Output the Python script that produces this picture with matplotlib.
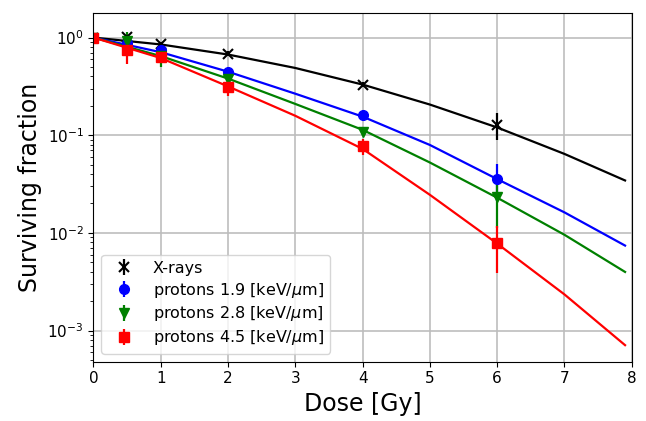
import matplotlib
matplotlib.use("Agg")
import matplotlib.pyplot as plt

# --------- DADOS -----------------------------
# pontos medidos
dose_pts = [0, 0.5, 1, 2, 4, 6]

sf_xray = [1.0, 1.02, 0.86, 0.68, 0.33, 0.128]
err_xray = [0.03, 0.07, 0.05, 0.04, 0.02, 0.039]

sf_p19 = [1.0, 0.88, 0.75, 0.44, 0.16, 0.036]
err_p19 = [0.03, 0.05, 0.06, 0.04, 0.015, 0.015]

sf_p28 = [1.0, 0.93, 0.64, 0.38, 0.108, 0.0235]
err_p28 = [0.03, 0.2, 0.14, 0.04, 0.01, 0.0123]

sf_p45 = [1.0, 0.75, 0.63, 0.315, 0.077, 0.0078]
err_p45 = [0.1, 0.22, 0.05, 0.06, 0.015, 0.0039]

# curvas ajustadas (valores lidos ao longo das linhas)
dose_fit = [0, 1, 2, 3, 4, 5, 6, 7, 7.9]
fit_xray = [1.0, 0.850, 0.670, 0.488, 0.330, 0.206, 0.120, 0.0643, 0.0344]
fit_p19 = [1.0, 0.708, 0.447, 0.266, 0.155, 0.0794, 0.0355, 0.0162, 0.00741]
fit_p28 = [1.0, 0.646, 0.380, 0.209, 0.1135, 0.0525, 0.0229, 0.00955, 0.00398]
fit_p45 = [1.0, 0.617, 0.316, 0.158, 0.0724, 0.0245, 0.00776, 0.00234, 0.000708]

labels = ["X-rays",
          r"protons 1.9 [keV/$\mu$m]",
          r"protons 2.8 [keV/$\mu$m]",
          r"protons 4.5 [keV/$\mu$m]"]

# --------- PLOT ----------
fig, ax = plt.subplots(figsize=(6.46, 4.21), dpi=100)
fig.subplots_adjust(left=0.1447, right=0.978, top=0.970, bottom=0.141)

ax.set_yscale("log")
ax.grid(True, which="major", color="#bdbdbd", linewidth=1.2)
ax.set_axisbelow(True)

# curvas
ax.plot(dose_fit, fit_xray, color="black", lw=1.6)
ax.plot(dose_fit, fit_p19, color="blue", lw=1.6)
ax.plot(dose_fit, fit_p28, color="green", lw=1.6)
ax.plot(dose_fit, fit_p45, color="red", lw=1.6)

# pontos com barras de erro
ax.errorbar(dose_pts, sf_xray, yerr=err_xray, fmt="x", color="black",
            ms=7, mew=1.5, elinewidth=1.6, label=labels[0])
ax.errorbar(dose_pts, sf_p19, yerr=err_p19, fmt="o", color="blue",
            ms=7, elinewidth=1.6, label=labels[1])
ax.errorbar(dose_pts, sf_p28, yerr=err_p28, fmt="v", color="green",
            ms=7, elinewidth=1.6, label=labels[2])
ax.errorbar(dose_pts, sf_p45, yerr=err_p45, fmt="s", color="red",
            ms=7, elinewidth=1.6, label=labels[3])

ax.set_xlim(0, 8)
ax.set_ylim(4.8e-4, 1.8)
ax.tick_params(labelsize=11)

ax.set_xlabel("Dose [Gy]", fontsize=17)
ax.set_ylabel("Surviving fraction", fontsize=17)

ax.legend(loc="lower left", fontsize=11.5, labelspacing=0.3)

fig.savefig("out.png", dpi=100)
